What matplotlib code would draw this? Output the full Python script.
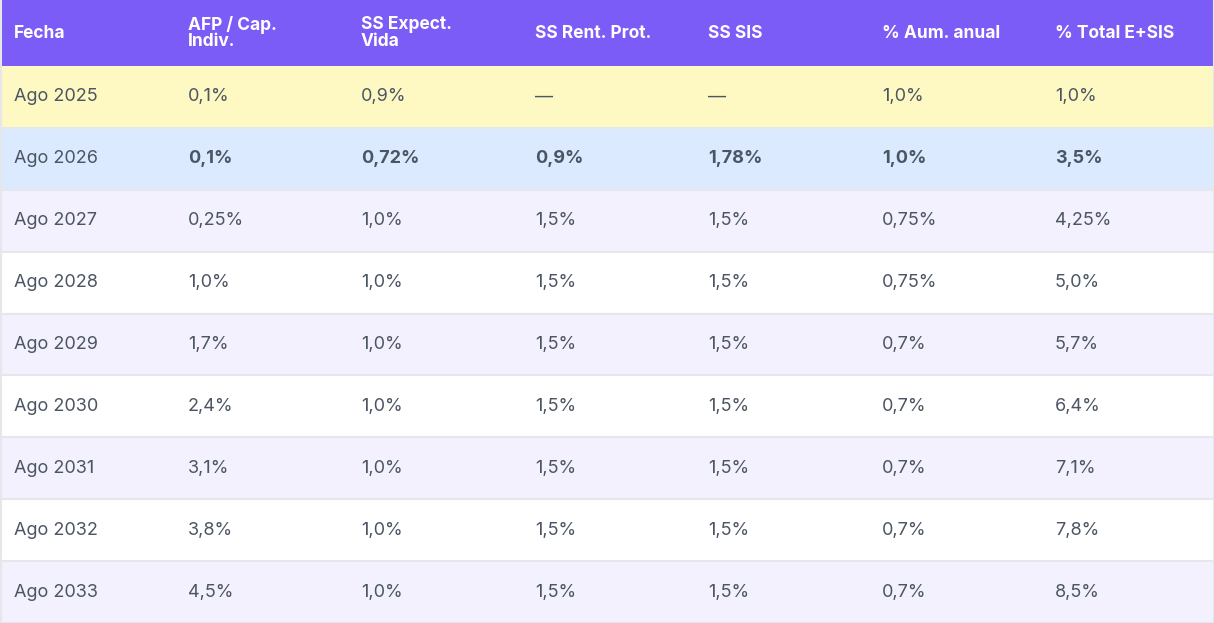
import matplotlib.pyplot as plt
from matplotlib.patches import Rectangle

headers = ["Fecha", "AFP / Cap.\nIndiv.", "SS Expect.\nVida", "SS Rent. Prot.", "SS SIS", "% Aum. anual", "% Total E+SIS"]
fechas = ["Ago 2025", "Ago 2026", "Ago 2027", "Ago 2028", "Ago 2029", "Ago 2030", "Ago 2031", "Ago 2032", "Ago 2033"]
afp = ["0,1%", "0,1%", "0,25%", "1,0%", "1,7%", "2,4%", "3,1%", "3,8%", "4,5%"]
expect = ["0,9%", "0,72%", "1,0%", "1,0%", "1,0%", "1,0%", "1,0%", "1,0%", "1,0%"]
rent = ["—", "0,9%", "1,5%", "1,5%", "1,5%", "1,5%", "1,5%", "1,5%", "1,5%"]
sis = ["—", "1,78%", "1,5%", "1,5%", "1,5%", "1,5%", "1,5%", "1,5%", "1,5%"]
aum = ["1,0%", "1,0%", "0,75%", "0,75%", "0,7%", "0,7%", "0,7%", "0,7%", "0,7%"]
total = ["1,0%", "3,5%", "4,25%", "5,0%", "5,7%", "6,4%", "7,1%", "7,8%", "8,5%"]

cols = [fechas, afp, expect, rent, sis, aum, total]
col_x = [14, 188, 361, 535, 708, 882, 1055]

W, H = 1214, 623
header_h = 66
row_h = (H - header_h) / len(fechas)

plt.rcParams['font.family'] = ['Inter', 'DejaVu Sans']
fig = plt.figure(figsize=(W / 100, H / 100), dpi=100)
ax = fig.add_axes([0, 0, 1, 1])
ax.set_xlim(0, W)
ax.set_ylim(H, 0)
ax.axis("off")

ax.add_patch(Rectangle((0, 0), W, header_h, color="#7c5cf6", lw=0))
for x, h in zip(col_x, headers):
    ax.text(x, header_h / 2, h, color="white", fontsize=12.5, fontweight="bold",
            va="center", ha="left", linespacing=1.0)

text_color = "#4b5563"
for i in range(len(fechas)):
    y0 = header_h + i * row_h
    if i == 0:
        bg = "#fef9c3"
    elif i == 1:
        bg = "#dbeafe"
    elif i % 2 == 0:
        bg = "#f3f1fd"
    else:
        bg = "white"
    ax.add_patch(Rectangle((0, y0), W, row_h, color=bg, lw=0))
    ax.plot([0, W], [y0 + row_h, y0 + row_h], color="#e5e7eb", lw=1.5)
    for j, (x, c) in enumerate(zip(col_x, cols)):
        weight = "bold" if (i == 1 and j > 0) else "normal"
        ax.text(x, y0 + row_h / 2, c[i], color=text_color, fontsize=13,
                fontweight=weight, va="center", ha="left")

ax.plot([0.5, 0.5], [0, H], color="#e5e7eb", lw=1.5)
ax.plot([W - 0.5, W - 0.5], [0, H], color="#e5e7eb", lw=1.5)

fig.savefig("out.png", dpi=100)
